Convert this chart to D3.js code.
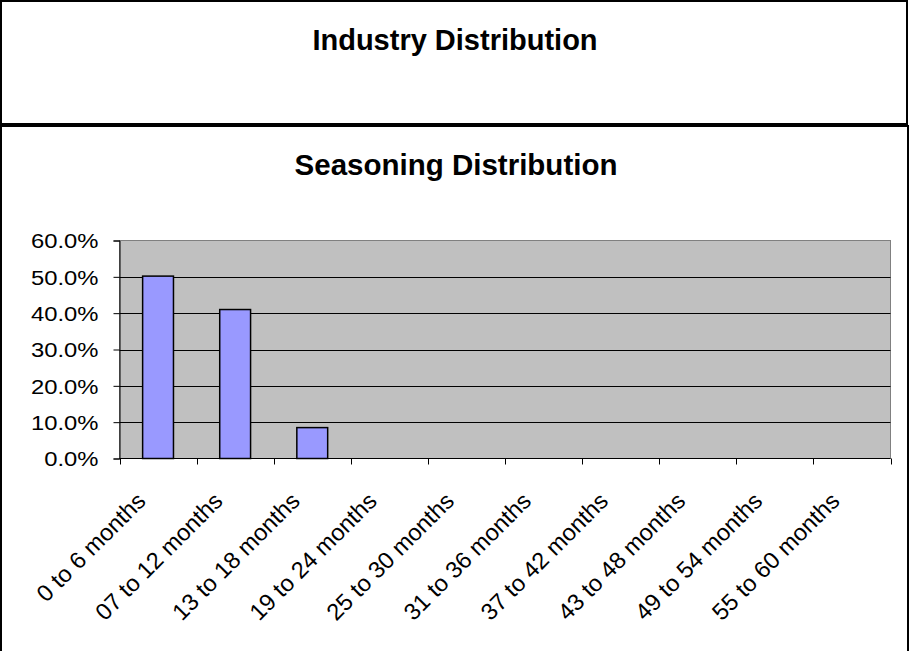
<!DOCTYPE html>
<html>
<head>
<meta charset="utf-8">
<script src="https://cdn.jsdelivr.net/npm/d3@7"></script>
<style>
  html, body { margin: 0; padding: 0; background: #fff; }
  svg { display: block; }
  text { font-family: "Liberation Sans", Arial, sans-serif; fill: #000; }
</style>
</head>
<body>
<svg id="chart" width="909" height="651"></svg>
<script>
// Seasoning buckets and the share of loans in each
const categories = [
  "0 to 6 months", "07 to 12 months", "13 to 18 months", "19 to 24 months",
  "25 to 30 months", "31 to 36 months", "37 to 42 months", "43 to 48 months",
  "49 to 54 months", "55 to 60 months"
];
const shares = [0.502, 0.41, 0.085, 0, 0, 0, 0, 0, 0, 0];
const yTicks = [0, 0.1, 0.2, 0.3, 0.4, 0.5, 0.6];
const topTitle = "Industry Distribution";
const chartTitle = "Seasoning Distribution";

const svg = d3.select("#chart");

// Two framed panels
svg.append("rect").attr("x", 1).attr("y", 1).attr("width", 906).attr("height", 123)
  .attr("fill", "#fff").attr("stroke", "#000").attr("stroke-width", 2);
svg.append("rect").attr("x", 1).attr("y", 126).attr("width", 907).attr("height", 530)
  .attr("fill", "#fff").attr("stroke", "#000").attr("stroke-width", 2);

svg.append("text").attr("x", 455).attr("y", 50).attr("text-anchor", "middle")
  .attr("font-size", 29).attr("font-weight", "bold").text(topTitle);
svg.append("text").attr("x", 456).attr("y", 175).attr("text-anchor", "middle")
  .attr("font-size", 29.5).attr("font-weight", "bold").text(chartTitle);

// Plot area
const plotL = 119.5, plotR = 890.5, plotT = 240.5, plotB = 458.5;
const xb = d3.scaleBand().domain(categories).range([plotL, plotR]);
const y = d3.scaleLinear().domain([0, 0.6]).range([plotB, plotT]);

svg.append("rect").attr("x", plotL).attr("y", plotT).attr("width", plotR - plotL).attr("height", plotB - plotT)
  .attr("fill", "#C0C0C0").attr("stroke", "#808080").attr("stroke-width", 1);

// Gridlines
svg.append("g").selectAll("line").data(yTicks.filter(d => d > 0 && d < 0.6)).join("line")
  .attr("x1", plotL).attr("x2", plotR)
  .attr("y1", d => Math.round(y(d)) + 0.5).attr("y2", d => Math.round(y(d)) + 0.5)
  .attr("stroke", "#000").attr("stroke-width", 1);

// Bars
svg.append("g").selectAll("rect").data(categories.map((c, i) => ({ c, v: shares[i] })).filter(d => d.v > 0))
  .join("rect")
  .attr("x", d => xb(d.c) + xb.bandwidth() * 0.3)
  .attr("width", xb.bandwidth() * 0.4)
  .attr("y", d => y(d.v))
  .attr("height", d => y(0) - y(d.v))
  .attr("fill", "#9999FF").attr("stroke", "#000").attr("stroke-width", 1.5);

// Y axis (labels slightly widened)
const yAxis = d3.axisLeft(y).tickValues(yTicks).tickSize(6).tickPadding(15)
  .tickFormat(d => (d * 100).toFixed(1) + "%");
const gy = svg.append("g").attr("transform", `translate(${plotL},0)`).call(yAxis);
gy.select(".domain").attr("stroke", "#000");
gy.selectAll(".tick line").attr("stroke", "#000");
gy.selectAll(".tick text").attr("font-size", 20).attr("font-family", "Liberation Sans, Arial, sans-serif")
  .attr("fill", "#000").attr("dy", "0.36em")
  .attr("x", 0).attr("transform", "translate(-21,0) scale(1.19,1)");

// X axis: ticks at band boundaries
const boundaries = categories.map(c => xb(c)).concat([plotR]);
const gx = svg.append("g");
gx.append("line").attr("x1", plotL).attr("x2", plotR).attr("y1", plotB).attr("y2", plotB)
  .attr("stroke", "#000").attr("stroke-width", 1);
gx.selectAll("line.tk").data(boundaries).join("line").attr("class", "tk")
  .attr("x1", d => Math.round(d) + 0.5).attr("x2", d => Math.round(d) + 0.5)
  .attr("y1", plotB).attr("y2", plotB + 6).attr("stroke", "#000");

gx.selectAll("text").data(categories).join("text")
  .attr("text-anchor", "end")
  .attr("font-size", 23.5)
  .attr("transform", d => `translate(${xb(d) + xb.bandwidth() / 2 - 11},${plotB + 44}) rotate(-45)`)
  .text(d => d);
</script>
</body>
</html>
